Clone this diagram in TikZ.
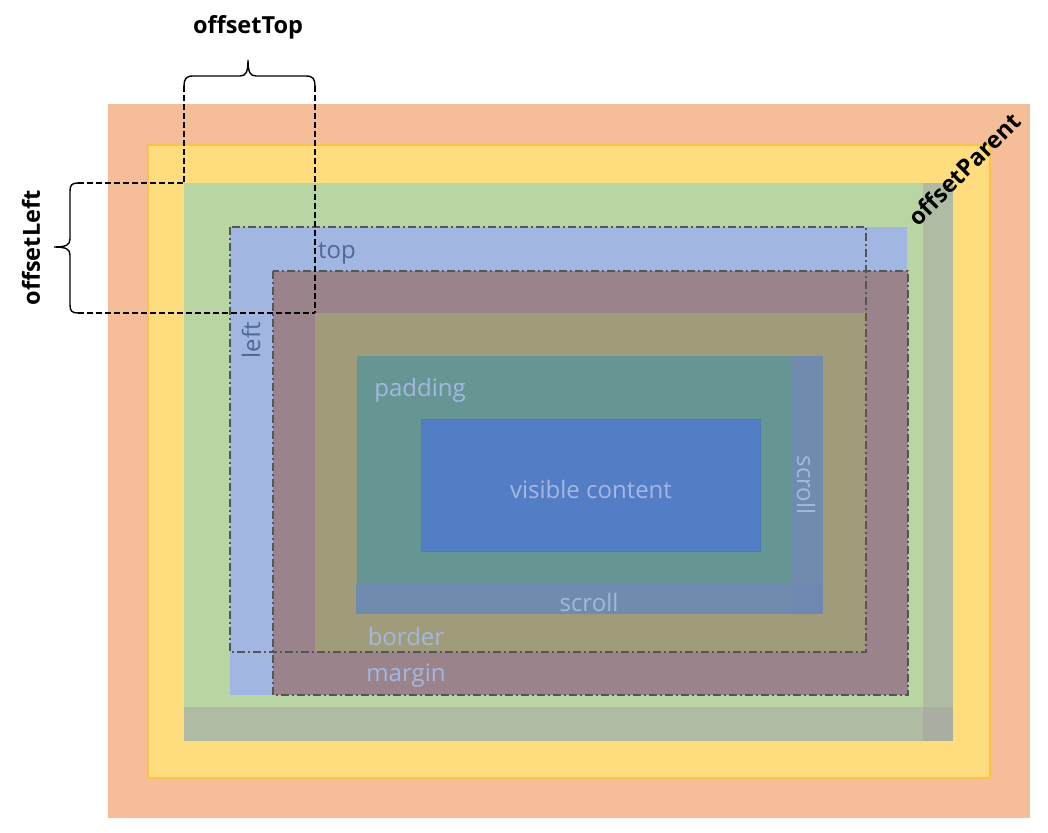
\documentclass[tikz,border=0pt]{standalone}
\usepackage{fontspec}
\setmainfont{Open Sans}
\definecolor{cOrange}{HTML}{F6BE98}
\definecolor{cYellow}{HTML}{FFDD7F}
\definecolor{cYellowEdge}{HTML}{FBC24C}
\definecolor{cGreen}{HTML}{B8D5A3}
\definecolor{cGreyBar}{HTML}{B0BBA3}
\definecolor{cGreyCorner}{HTML}{AAAEA0}
\definecolor{cPos}{HTML}{A1B7E1}
\definecolor{cMargin}{HTML}{9B838B}
\definecolor{cBorder}{HTML}{A09C7A}
\definecolor{cPadding}{HTML}{659694}
\definecolor{cScroll}{HTML}{6F8BAE}
\definecolor{cScrollCorner}{HTML}{6E88B1}
\definecolor{cContent}{HTML}{537EC6}
\definecolor{cContentEdge}{HTML}{4E78BE}
\definecolor{cLightText}{HTML}{A3B7E0}
\definecolor{cDarkText}{HTML}{50679A}
\definecolor{cDashDot}{HTML}{555555}
\tikzset{
  lbl/.style={font=\fontsize{24}{28}\selectfont, text=cLightText, inner sep=0pt},
  dlbl/.style={font=\fontsize{24}{28}\selectfont, text=cDarkText, inner sep=0pt},
  blbl/.style={font=\fontsize{23.5}{27}\selectfont\bfseries, text=black, inner sep=0pt},
  dashdotline/.style={draw=cDashDot, line width=2pt, dash pattern=on 8pt off 3pt on 2pt off 3pt},
  bracket/.style={draw=black, line width=1.4pt, dash pattern=on 6pt off 3pt},
  bracesolid/.style={draw=black, line width=1.4pt, line cap=round},
}
\begin{document}
\begin{tikzpicture}[x=1pt,y=-1pt]
\useasboundingbox (0,0) rectangle (1048,832);
\fill[white] (0,0) rectangle (1048,832);
% offsetParent layers
\fill[cOrange] (108,104) rectangle (1030,818);
\filldraw[fill=cYellow, draw=cYellowEdge, line width=2pt] (148,145) rectangle (990,778);
\fill[cGreen] (184,183) rectangle (953,741);
\fill[cGreyBar] (923,183) rectangle (953,707);
\fill[cGreyBar] (184,707) rectangle (923,741);
\fill[cGreyCorner] (923,707) rectangle (953,741);
% positioned element
\fill[cPos] (230,227) rectangle (907,695);
\fill[cMargin] (273,271) rectangle (908,695);
\fill[cBorder] (315,313) rectangle (866,652);
\fill[cPadding] (357,356) rectangle (823,614);
\fill[cScroll] (791,356) rectangle (823,584);
\fill[cScroll] (356,584) rectangle (791,614);
\fill[cScrollCorner] (791,584) rectangle (823,614);
\filldraw[fill=cContent, draw=cContentEdge, line width=0.8pt] (421,419) rectangle (760,551);
% labels
\node[dlbl] (ltop) at (337,253) {top};
\node[dlbl, rotate=90] (lleft) at (251,340) {left};
\node[lbl] (lpad) at (420,390) {padding};
\node[lbl] (lvis) at (591,489) {visible content};
\node[lbl] (lsch) at (589,602) {scroll};
\node[lbl, rotate=-90] (lscv) at (806,485) {scroll};
\node[lbl] (lbor) at (406,636) {border};
\node[lbl] (lmar) at (406,676) {margin};
% dash-dot outlines
\draw[dashdotline] (230,227) rectangle (866,652);
\draw[dashdotline] (273,271) rectangle (908,695);
% offsetTop bracket
\coordinate (tl) at (184,183);
\coordinate (bt) at (315,313);
\draw[bracket] (184,86) -- (tl);
\draw[bracket] (315,86) -- (bt);
\draw[bracesolid] (184,86) .. controls (184,79) and (186,76) .. (193,76) -- (240,76)
  .. controls (246,76) and (248,72) .. (248,60)
  .. controls (248,72) and (250,76) .. (256,76) -- (306,76)
  .. controls (313,76) and (315,79) .. (315,86);
% offsetLeft bracket
\draw[bracket] (78,183) -- (tl);
\draw[bracket] (78,313) -- (bt);
\draw[bracesolid] (78,183) .. controls (72,183) and (70,185) .. (70,191) -- (70,239)
  .. controls (70,245) and (66,247) .. (54,247)
  .. controls (66,247) and (70,249) .. (70,255) -- (70,305)
  .. controls (70,311) and (72,313) .. (78,313);
% titles
\node[blbl] (ttop) at (248,27) {offsetTop};
\node[blbl, rotate=90] (tleft) at (31,248) {offsetLeft};
\node[blbl, rotate=45] (tpar) at (964,169) {offsetParent};
\end{tikzpicture}
\end{document}
